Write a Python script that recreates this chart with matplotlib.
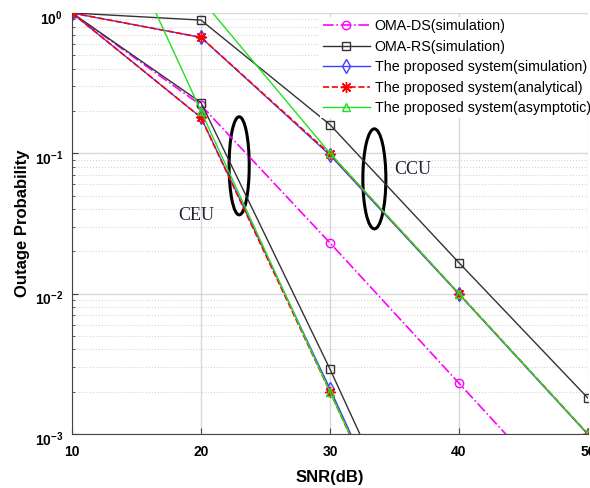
import matplotlib
matplotlib.use("Agg")
import matplotlib.pyplot as plt
from matplotlib.patches import Ellipse
from matplotlib.ticker import LogLocator, NullFormatter
from matplotlib.transforms import ScaledTranslation

plt.rcParams['font.family'] = ['Liberation Sans', 'DejaVu Sans']
plt.rcParams['mathtext.fontset'] = 'custom'
plt.rcParams['mathtext.rm'] = 'Liberation Sans'
plt.rcParams['mathtext.bf'] = 'Liberation Sans:bold'

# SNR in dB
snr = [10, 20, 30, 40, 50]

# outage probability
oma_ds = [1.0, 0.22, 0.023, 0.0023, 0.00023]
oma_rs_ceu = [1.0, 0.23, 0.0029, 2.9e-5, 2.9e-7]
oma_rs_ccu = [1.0, 0.89, 0.16, 0.0166, 0.0018]
prop_sim_ceu = [1.0, 0.18, 0.0021, 2.1e-5, 2.1e-7]
prop_ana_ceu = [1.0, 0.18, 0.0020, 2.0e-5, 2.0e-7]
asym_ceu = [20.0, 0.2, 0.002, 2e-5, 2e-7]
prop_sim_ccu = [1.0, 0.67, 0.097, 0.0099, 0.00099]
prop_ana_ccu = [1.0, 0.67, 0.099, 0.010, 0.0010]
asym_ccu = [12.0, 1.26, 0.10, 0.010, 0.0010]

xticks = [10, 20, 30, 40, 50]
yticks = [1e-3, 1e-2, 1e-1, 1]
yticklabels = [r'$\mathbf{10^{-3}}$', r'$\mathbf{10^{-2}}$',
               r'$\mathbf{10^{-1}}$', r'$\mathbf{10^{0}}$']

fig = plt.figure(figsize=(5.9, 4.88), dpi=100)
ax = fig.add_axes([0.122, 0.1107, 0.8746, 0.8627])

mag = '#ff00ff'
blk = '#333333'
blu = '#4040ff'
red = '#ff0000'
grn = '#22e022'
ms = 6
star = (8, 2, 0)

ax.plot(snr, oma_ds, color=mag, ls='-.', lw=1.2, marker='o', mfc='none', ms=ms,
        label='OMA-DS(simulation)')
ax.plot(snr, oma_rs_ceu, color=blk, ls='-', lw=1, marker='s', mfc='none', ms=ms,
        label='OMA-RS(simulation)')
ax.plot(snr, oma_rs_ccu, color=blk, ls='-', lw=1, marker='s', mfc='none', ms=ms)
ax.plot(snr, prop_sim_ceu, color=blu, ls='-', lw=1, marker='d', mfc='none', ms=ms + 1,
        label='The proposed system(simulation)')
ax.plot(snr, prop_sim_ccu, color=blu, ls='-', lw=1, marker='d', mfc='none', ms=ms + 1)
ax.plot(snr, prop_ana_ceu, color=red, ls='--', lw=1.2, marker=star, ms=ms + 2,
        label='The proposed system(analytical)')
ax.plot(snr, prop_ana_ccu, color=red, ls='--', lw=1.2, marker=star, ms=ms + 2)
ax.plot(snr, asym_ceu, color=grn, ls='-', lw=1, marker='^', mfc='none', ms=ms,
        label='The proposed system(asymptotic)')
ax.plot(snr, asym_ccu, color=grn, ls='-', lw=1, marker='^', mfc='none', ms=ms)

ax.set_yscale('log')
ax.set_xlim(10, 50)
ax.set_ylim(1e-3, 1)
ax.set_xticks(xticks)
ax.set_xticklabels([str(v) for v in xticks], fontweight='bold', fontsize=10)
ax.set_yticks(yticks)
ax.set_yticklabels(yticklabels, fontsize=10)
ax.yaxis.set_minor_locator(LogLocator(base=10, subs=range(2, 10)))
ax.yaxis.set_minor_formatter(NullFormatter())
ax.tick_params(which='both', direction='in', color='#444444')
ax.tick_params(which='major', length=4)
ax.tick_params(which='minor', length=2)
ax.tick_params(axis='x', pad=8)
ax.tick_params(axis='y', pad=6.5)
# MATLAB-style: y labels sit a little below their tick
for lbl in ax.get_yticklabels():
    lbl.set_transform(lbl.get_transform() + ScaledTranslation(0, -0.04, fig.dpi_scale_trans))

ax.grid(True, which='major', color='#d8d8d8', lw=1, ls='-')
ax.grid(True, which='minor', axis='y', color='#d4d4d4', lw=0.8, ls=':')
ax.set_axisbelow(True)
for s in ['top', 'right']:
    ax.spines[s].set_visible(False)
for s in ['left', 'bottom']:
    ax.spines[s].set_color('#444444')

ax.set_xlabel('SNR(dB)', fontweight='bold', fontsize=12, labelpad=8)
ax.set_ylabel('Outage Probability', fontweight='bold', fontsize=12)
ax.yaxis.set_label_coords(-0.082, 0.5)

# ellipses marking the two user groups
ax.add_patch(Ellipse((0.324, 0.637), 0.039, 0.233, transform=ax.transAxes,
                     fill=False, ec='black', lw=2.2))
ax.add_patch(Ellipse((0.586, 0.606), 0.0446, 0.2375, transform=ax.transAxes,
                     fill=False, ec='black', lw=2.2))
ax.text(18.2, 0.036, 'CEU', family='Liberation Serif', fontsize=13,
        color='#222233', va='center')
ax.text(35.0, 0.077, 'CCU', family='Liberation Serif', fontsize=13,
        color='#222233', va='center')

leg = ax.legend(loc='upper right', bbox_to_anchor=(1.018, 1.0), fontsize=10.3,
                frameon=True, fancybox=False, edgecolor='none', facecolor='white',
                framealpha=1, handlelength=3.3, labelspacing=0.45,
                borderaxespad=0.25, borderpad=0.2, handletextpad=0.35)

fig.savefig('out.png', dpi=100)
